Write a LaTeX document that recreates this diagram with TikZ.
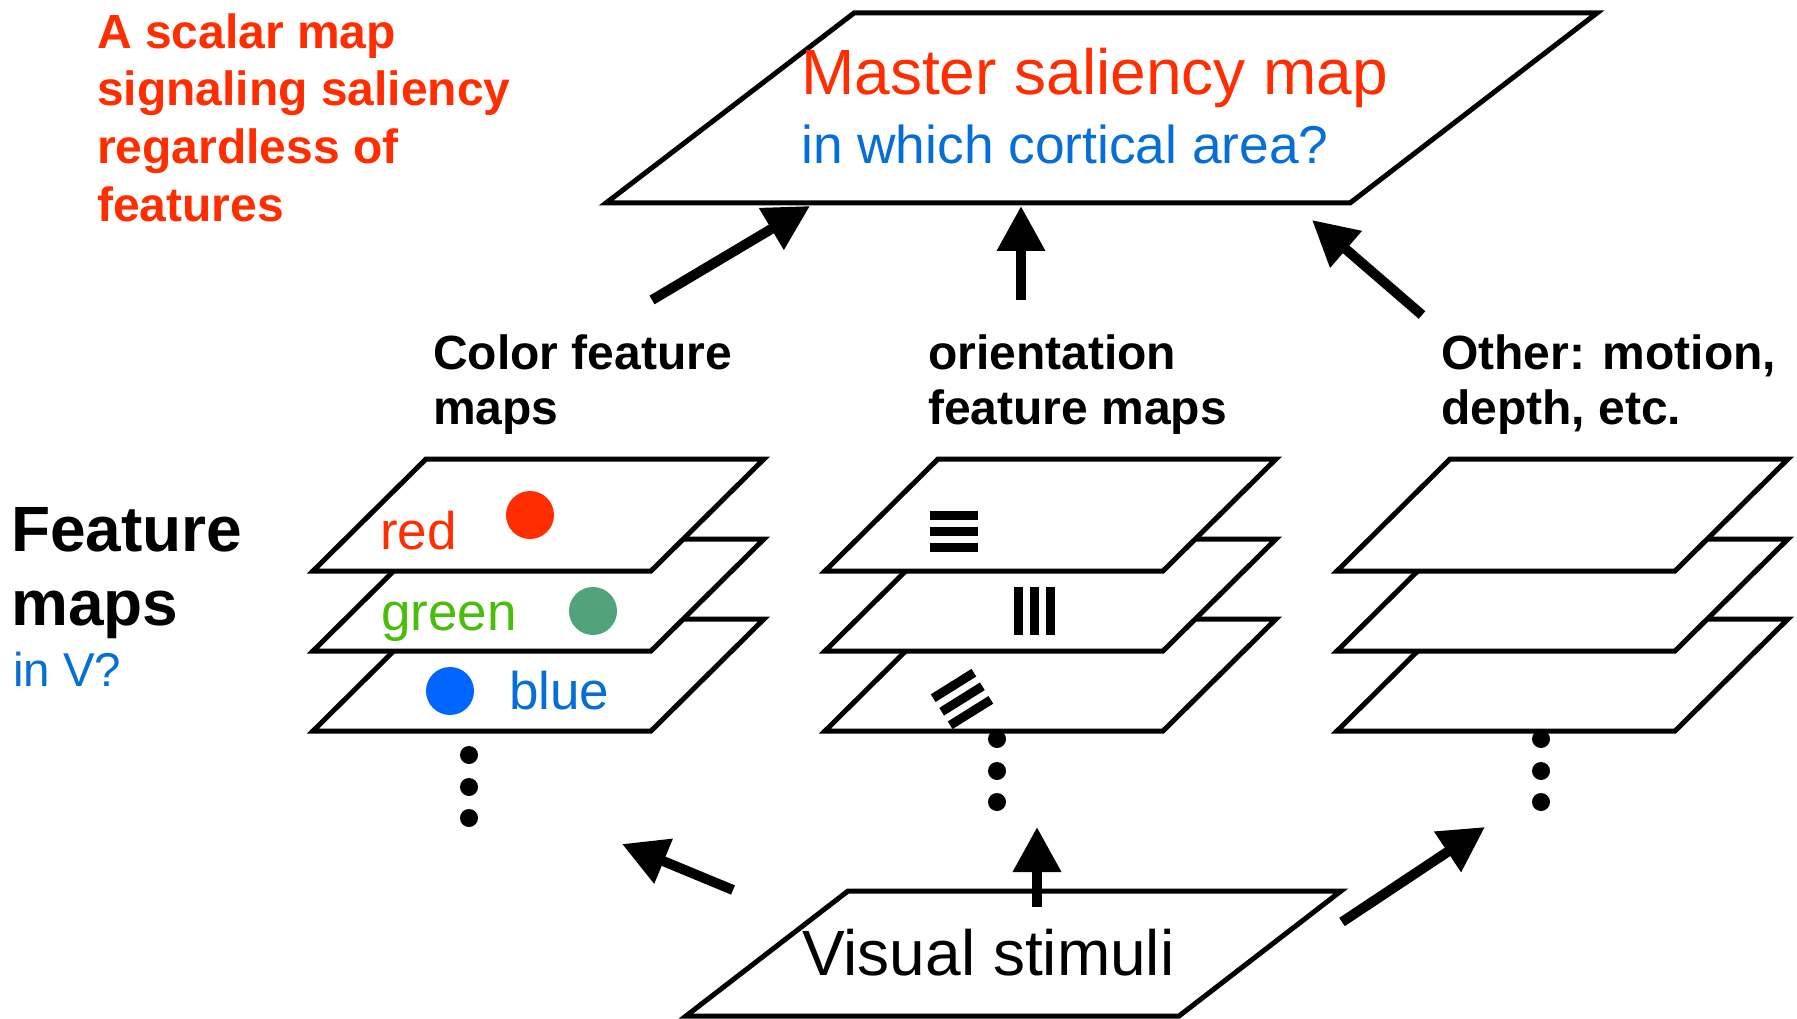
\documentclass[tikz,border=0pt]{standalone}
\usepackage{fontspec}
\setmainfont{Liberation Sans}
\usetikzlibrary{arrows.meta}

\definecolor{salred}{RGB}{255,45,0}
\definecolor{qblue}{RGB}{5,110,215}
\definecolor{lblgreen}{RGB}{72,190,10}
\definecolor{dotred}{RGB}{255,45,0}
\definecolor{dotgreen}{RGB}{80,163,123}
\definecolor{dotblue}{RGB}{0,102,255}

\tikzset{
  plane/.style={draw=black, line width=5pt, fill=white, line join=miter},
  bigarrow/.style={line width=10pt, -{Triangle[length=45pt,width=46pt]}},
  txt/.style={inner sep=0pt, anchor=base west},
  headline/.style={txt, font=\fontsize{48}{55}\selectfont\bfseries},
  maplabel/.style={txt, font=\fontsize{53}{58}\selectfont},
  % three stacked feature planes; origin = lower-left corner of the bottom plane
  pics/featstack/.style={code={
    \foreach \dy in {0,-80,-160}
      \path[plane] (0,\dy) -- ++(338,0) -- ++(113,-112) -- ++(-338,0) -- cycle;
  }},
  % three parallel bars, centred on the pic origin
  pics/bars/.style={code={
    \foreach \o in {-16,0,16}
      \fill[black] (-24,\o-4.5) rectangle (24,\o+4.5);
  }},
  % a vertical column of three dots below a stack
  pics/vdots/.style={code={
    \foreach \o in {0,32,63} \fill[black] (0,\o) circle (9);
  }}
}

\begin{document}
\begin{tikzpicture}[x=1pt,y=-1pt]
\useasboundingbox (0,0) rectangle (1797,1019);

% ---- top-left note ----
\node[headline, text=salred] (note1) at (97,49)  {A scalar map};
\node[headline, text=salred] (note2) at (97,106) {signaling saliency};
\node[headline, text=salred] (note3) at (97,164) {regardless of};
\node[headline, text=salred] (note4) at (97,222) {features};

% ---- master saliency map ----
\path[plane] (606,203) -- (1350,203) -- (1597,13) -- (854,13) -- cycle;
\node[txt, text=salred, font=\fontsize{64}{70}\selectfont] (master) at (801,95) {Master saliency map};
\node[txt, text=qblue, font=\fontsize{53.3}{60}\selectfont] (where) at (801,164) {in which cortical area?};

% ---- column headings ----
\node[headline] (colA1) at (433,369) {Color feature};
\node[headline] (colA2) at (433,424) {maps};
\node[headline] (colB1) at (928,369) {orientation};
\node[headline] (colB2) at (928,424) {feature maps};
\node[headline] (colC1) at (1441,369) {Other: motion,};
\node[headline] (colC2) at (1441,424) {depth, etc.};

% ---- side label ----
\node[txt, font=\fontsize{64}{74}\selectfont\bfseries] (fm1) at (11,551) {Feature};
\node[txt, font=\fontsize{64}{74}\selectfont\bfseries] (fm2) at (11,625) {maps};
\node[txt, text=qblue, font=\fontsize{47.5}{52}\selectfont] (inv) at (13,686) {in V?};

% ---- feature stacks ----
\pic at (313,731)  {featstack};
\pic at (825,731)  {featstack};
\pic at (1337,731) {featstack};

% colour maps
\fill[dotred]   (530,515) circle (24);
\fill[dotgreen] (593,611) circle (24);
\fill[dotblue]  (450,691) circle (24);
\node[maplabel, text=salred]   (lred)   at (380,549) {red};
\node[maplabel, text=lblgreen] (lgreen) at (381,630) {green};
\node[maplabel, text=qblue]    (lblue)  at (509,709) {blue};

% orientation maps
\pic at (954,531.5) {bars};
\pic[rotate=90] at (1034.5,611) {bars};
\pic[rotate=32] at (962,699) {bars};

% continuation dots
\pic at (469,755)  {vdots};
\pic at (997,739)  {vdots};
\pic at (1541,739) {vdots};

% ---- visual stimuli ----
\path[plane] (686,1016) -- (1179,1016) -- (1341,891) -- (848,891) -- cycle;
\node[txt, font=\fontsize{64}{70}\selectfont] (stim) at (802,975) {Visual stimuli};

% ---- arrow end points ----
\coordinate (cA-out) at (652,300);  \coordinate (m-inA) at (810,206);
\coordinate (cB-out) at (1021,300); \coordinate (m-inB) at (1021,206);
\coordinate (cC-out) at (1422,315); \coordinate (m-inC) at (1312,220);
\coordinate (s-outA) at (733,890);  \coordinate (cA-in) at (622,844);
\coordinate (s-outB) at (1037,907); \coordinate (cB-in) at (1037,827);
\coordinate (s-outC) at (1342,922); \coordinate (cC-in) at (1485,827);

% feature maps -> master map
\draw[bigarrow] (cA-out) -- (m-inA);
\draw[bigarrow] (cB-out) -- (m-inB);
\draw[bigarrow] (cC-out) -- (m-inC);

% stimuli -> feature maps
\draw[bigarrow] (s-outA) -- (cA-in);
\draw[bigarrow] (s-outB) -- (cB-in);
\draw[bigarrow] (s-outC) -- (cC-in);
\end{tikzpicture}
\end{document}
